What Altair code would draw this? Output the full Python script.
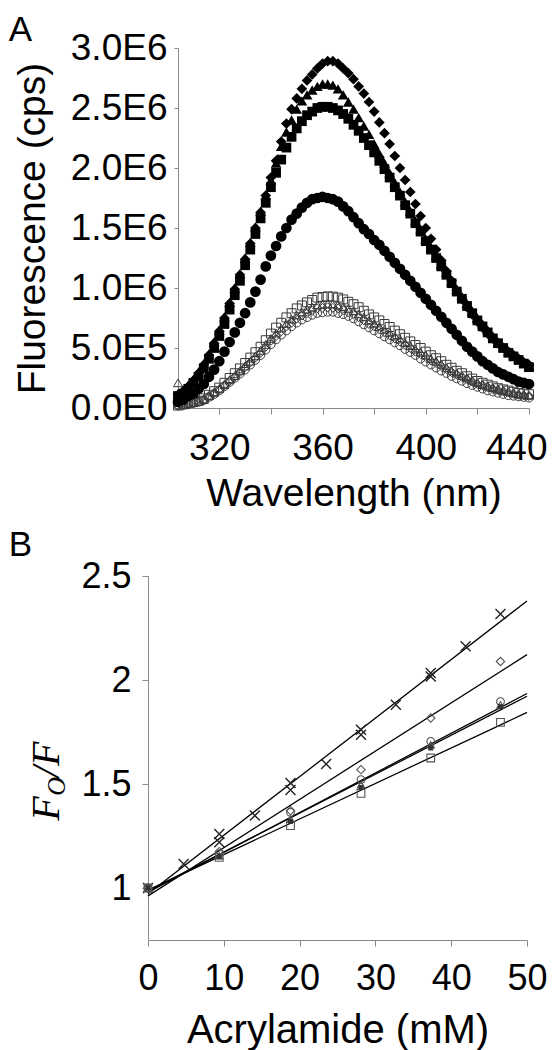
import altair as alt
import pandas as pd

# ---------------- Panel A : emission spectra ----------------
wavelength = [304, 306, 308, 310, 312, 314, 316, 318, 320, 322,
              324, 326, 328, 330, 332, 334, 336, 338, 340, 342,
              344, 346, 348, 350, 352, 354, 356, 358, 360, 362,
              364, 366, 368, 370, 372, 374, 376, 378, 380, 382,
              384, 386, 388, 390, 392, 394, 396, 398, 400, 402,
              404, 406, 408, 410, 412, 414, 416, 418, 420, 422,
              424, 426, 428, 430, 432, 434, 436, 438, 440]

# values in units of 1E6 cps
f_diamond = [0.11, 0.14, 0.18, 0.23, 0.29, 0.36, 0.44, 0.54, 0.64, 0.75,
             0.87, 0.99, 1.11, 1.24, 1.37, 1.50, 1.63, 1.77, 1.92, 2.06,
             2.22, 2.37, 2.49, 2.58, 2.66, 2.73, 2.78, 2.83, 2.87, 2.89,
             2.89, 2.87, 2.83, 2.79, 2.74, 2.68, 2.62, 2.55, 2.47, 2.38,
             2.29, 2.20, 2.10, 2.00, 1.90, 1.80, 1.70, 1.60, 1.50, 1.41,
             1.32, 1.23, 1.14, 1.06, 0.98, 0.91, 0.84, 0.78, 0.72, 0.67,
             0.62, 0.58, 0.54, 0.50, 0.47, 0.44, 0.41, 0.38, 0.36]
f_triangle = [0.12, 0.15, 0.19, 0.24, 0.30, 0.37, 0.45, 0.55, 0.65, 0.76,
              0.88, 1.00, 1.12, 1.25, 1.38, 1.51, 1.64, 1.77, 1.90, 2.04,
              2.18, 2.30, 2.40, 2.49, 2.56, 2.61, 2.65, 2.68, 2.70, 2.70,
              2.69, 2.66, 2.61, 2.55, 2.49, 2.42, 2.35, 2.28, 2.20, 2.12,
              2.04, 1.96, 1.88, 1.80, 1.72, 1.64, 1.56, 1.49, 1.41, 1.34,
              1.27, 1.20, 1.13, 1.06, 0.99, 0.93, 0.87, 0.81, 0.75, 0.70,
              0.65, 0.60, 0.55, 0.51, 0.47, 0.44, 0.41, 0.38, 0.35]
f_square = [0.10, 0.12, 0.16, 0.21, 0.26, 0.33, 0.41, 0.50, 0.60, 0.70,
            0.82, 0.94, 1.06, 1.19, 1.32, 1.45, 1.58, 1.71, 1.84, 1.96,
            2.07, 2.17, 2.26, 2.33, 2.39, 2.44, 2.47, 2.50, 2.51, 2.51,
            2.50, 2.48, 2.45, 2.41, 2.36, 2.31, 2.25, 2.19, 2.13, 2.06,
            1.99, 1.92, 1.84, 1.77, 1.69, 1.62, 1.54, 1.47, 1.39, 1.32,
            1.25, 1.18, 1.11, 1.04, 0.97, 0.91, 0.85, 0.79, 0.73, 0.68,
            0.63, 0.58, 0.54, 0.50, 0.46, 0.43, 0.40, 0.37, 0.34]
f_circle = [0.05, 0.07, 0.10, 0.12, 0.16, 0.20, 0.26, 0.32, 0.39, 0.47,
            0.55, 0.63, 0.71, 0.79, 0.88, 0.97, 1.07, 1.18, 1.27, 1.35,
            1.43, 1.50, 1.57, 1.62, 1.67, 1.71, 1.74, 1.75, 1.76, 1.75,
            1.74, 1.72, 1.68, 1.64, 1.59, 1.54, 1.49, 1.45, 1.40, 1.36,
            1.31, 1.26, 1.21, 1.16, 1.11, 1.06, 1.01, 0.96, 0.91, 0.86,
            0.81, 0.76, 0.71, 0.66, 0.61, 0.56, 0.51, 0.47, 0.43, 0.39,
            0.36, 0.33, 0.30, 0.28, 0.26, 0.24, 0.22, 0.21, 0.20]
o_square = [0.02, 0.03, 0.04, 0.05, 0.06, 0.08, 0.11, 0.14, 0.17, 0.21,
            0.25, 0.29, 0.33, 0.375, 0.42, 0.465, 0.51, 0.565, 0.62, 0.67,
            0.71, 0.755, 0.79, 0.83, 0.855, 0.88, 0.90, 0.92, 0.925, 0.93,
            0.928, 0.92, 0.905, 0.885, 0.865, 0.84, 0.81, 0.78, 0.755, 0.73,
            0.70, 0.675, 0.645, 0.615, 0.585, 0.555, 0.525, 0.50, 0.47, 0.44,
            0.415, 0.39, 0.36, 0.335, 0.31, 0.29, 0.265, 0.245, 0.225, 0.21,
            0.195, 0.18, 0.165, 0.155, 0.145, 0.135, 0.125, 0.12, 0.115]
o_triangle = [0.21, 0.03, 0.04, 0.045, 0.055, 0.07, 0.10, 0.13, 0.16, 0.195,
              0.235, 0.27, 0.31, 0.35, 0.39, 0.435, 0.48, 0.53, 0.58, 0.625,
              0.665, 0.705, 0.74, 0.775, 0.80, 0.825, 0.84, 0.86, 0.865, 0.87,
              0.868, 0.86, 0.845, 0.83, 0.81, 0.785, 0.76, 0.73, 0.705, 0.68,
              0.655, 0.63, 0.60, 0.575, 0.545, 0.52, 0.49, 0.465, 0.44, 0.41,
              0.39, 0.365, 0.335, 0.31, 0.29, 0.27, 0.25, 0.23, 0.21, 0.195,
              0.18, 0.17, 0.155, 0.145, 0.135, 0.125, 0.115, 0.11, 0.105]
o_diamond = [0.02, 0.02, 0.035, 0.045, 0.055, 0.07, 0.10, 0.125, 0.155, 0.19,
             0.225, 0.26, 0.30, 0.34, 0.38, 0.42, 0.46, 0.51, 0.56, 0.60,
             0.64, 0.68, 0.71, 0.745, 0.77, 0.79, 0.81, 0.83, 0.835, 0.84,
             0.835, 0.83, 0.815, 0.795, 0.78, 0.755, 0.73, 0.70, 0.68, 0.655,
             0.63, 0.605, 0.58, 0.555, 0.525, 0.50, 0.47, 0.45, 0.425, 0.395,
             0.375, 0.35, 0.325, 0.30, 0.28, 0.26, 0.24, 0.22, 0.20, 0.19,
             0.175, 0.16, 0.15, 0.14, 0.13, 0.12, 0.11, 0.105, 0.10]
o_circle = [0.02, 0.025, 0.03, 0.04, 0.05, 0.065, 0.09, 0.115, 0.145, 0.18,
            0.215, 0.25, 0.285, 0.32, 0.36, 0.40, 0.44, 0.485, 0.53, 0.57,
            0.61, 0.645, 0.68, 0.71, 0.735, 0.755, 0.775, 0.79, 0.795, 0.80,
            0.80, 0.79, 0.78, 0.765, 0.745, 0.72, 0.695, 0.67, 0.645, 0.62,
            0.595, 0.57, 0.545, 0.52, 0.49, 0.465, 0.44, 0.41, 0.385, 0.36,
            0.335, 0.31, 0.29, 0.265, 0.245, 0.225, 0.205, 0.19, 0.175, 0.16,
            0.145, 0.135, 0.125, 0.115, 0.105, 0.10, 0.095, 0.09, 0.085]

a_y_ticks = [0, 0.5, 1.0, 1.5, 2.0, 2.5, 3.0]
a_x_ticks = [320, 340, 360, 380, 400, 420, 440]

# ---------------- Panel B : Stern-Volmer plot ----------------
x_cross = [0, 4.7, 9.4, 9.4, 14.1, 18.8, 18.8, 23.5, 28.1, 28.1, 32.7, 37.3, 37.3, 41.9, 46.5]
y_cross = [1.0, 1.115, 1.26, 1.22, 1.348, 1.505, 1.471, 1.596, 1.761, 1.737, 1.881, 2.034, 2.017, 2.162, 2.317]
conc = [0, 9.4, 18.8, 28.1, 37.3, 46.5]
y_diamond = [1.0, 1.175, 1.372, 1.569, 1.817, 2.089]
y_circle = [1.0, 1.165, 1.364, 1.521, 1.705, 1.896]
y_triangle = [1.0, 1.155, 1.33, 1.497, 1.689, 1.881]
y_dot = [1.0, 1.15, 1.32, 1.484, 1.673, 1.872]
y_square = [1.0, 1.147, 1.30, 1.455, 1.625, 1.796]

fit_x = [0, 50]
fit_cross = [0.972, 2.38]
fit_diamond = [0.962, 2.122]
fit_circle = [0.98, 1.935]
fit_triangle = [0.985, 1.922]
fit_square = [0.99, 1.844]

b_y_ticks = [1.0, 1.5, 2.0, 2.5]
b_x_ticks = [0, 10, 20, 30, 40, 50]

SANS = "Liberation Sans"
SERIF = "Liberation Serif"
AXIS_GREY = "#8a8a8a"

# pixel layout (page coordinates) used for the free-standing texts
A_LEFT, A_TOP = 177.3, 47.3
B_LEFT, B_TOP = 147.3, 575.3
A_W, A_H = 351, 360
B_W, B_H = 379, 364

# ---------------- build panel A ----------------
ax = alt.X("wl:Q",
           scale=alt.Scale(domain=[304, 440], nice=False, zero=False),
           axis=alt.Axis(values=a_x_ticks, labelExpr="datum.value % 40 == 0 ? datum.label : ''",
                         title="Wavelength (nm)", grid=False, labelOverlap=False,
                         labelFlush=True, labelFlushOffset=18,
                         domainColor=AXIS_GREY, tickColor=AXIS_GREY, tickSize=6,
                         labelFont=SANS, labelFontSize=37, labelPadding=16, labelColor="black",
                         titleFont=SANS, titleFontSize=39, titleFontWeight="normal",
                         titlePadding=8, titleColor="black"))
ay = alt.Y("val:Q",
           scale=alt.Scale(domain=[0, 3], nice=False, zero=True),
           axis=alt.Axis(values=a_y_ticks,
                         labelExpr="datum.value == 0 ? '0.0E0' : (datum.value < 1 ? format(datum.value * 10, '.1f') + 'E5' : format(datum.value, '.1f') + 'E6')",
                         title="Fluorescence (cps)", grid=False, labelOverlap=False, labelFlush=False,
                         domainColor=AXIS_GREY, tickColor=AXIS_GREY, tickSize=4,
                         labelFont=SANS, labelFontSize=37, labelPadding=7, labelColor="black",
                         titleFont=SANS, titleFontSize=39, titleFontWeight="normal",
                         titlePadding=18, titleColor="black"))

a_series = [
    (o_circle, "circle", False, 70),
    (o_diamond, "diamond", False, 80),
    (o_triangle, "triangle-up", False, 80),
    (o_square, "square", False, 80),
    (f_diamond, "diamond", True, 115),
    (f_triangle, "triangle-up", True, 115),
    (f_square, "square", True, 95),
    (f_circle, "circle", True, 115),
]

a_layers = []
for vals, shp, filled, sz in a_series:
    df = pd.DataFrame({"wl": wavelength, "val": vals})
    if filled:
        m = alt.Chart(df).mark_point(shape=shp, filled=True, size=sz, color="black", opacity=1, strokeWidth=0)
    else:
        m = alt.Chart(df).mark_point(shape=shp, filled=False, size=sz, color="#3a3a3a", opacity=1, strokeWidth=1)
    a_layers.append(m.encode(x=ax, y=ay))

a_label = alt.Chart(pd.DataFrame({"t": ["A"]})).mark_text(
    align="left", baseline="alphabetic", font=SANS, fontSize=35, color="black"
).encode(x=alt.value(8 - A_LEFT), y=alt.value(40 - A_TOP), text="t:N")

panel_a = alt.layer(*a_layers, a_label).properties(width=A_W, height=A_H)

# invisible spacer that pushes panel A 30 px to the right of panel B
spacer = alt.Chart(pd.DataFrame({"z": [0]})).mark_point(opacity=0, size=1).encode(
    x=alt.X("z:Q", axis=None, scale=alt.Scale(domain=[0, 1])),
    y=alt.Y("z:Q", axis=None, scale=alt.Scale(domain=[0, 1])),
).properties(width=A_LEFT - B_LEFT, height=A_H)

row_a = alt.hconcat(spacer, panel_a, spacing=0, bounds="flush")

# ---------------- build panel B ----------------
bx = alt.X("c:Q", scale=alt.Scale(domain=[0, 50], nice=False, zero=False),
           axis=alt.Axis(values=b_x_ticks, title="Acrylamide (mM)", grid=False, labelOverlap=False,
                         labelFlush=False,
                         domainColor=AXIS_GREY, tickColor=AXIS_GREY, tickSize=6,
                         labelFont=SANS, labelFontSize=36, labelPadding=15, labelColor="black",
                         titleFont=SANS, titleFontSize=40, titleFontWeight="normal",
                         titlePadding=14, titleColor="black"))
by = alt.Y("r:Q", scale=alt.Scale(domain=[0.75, 2.5], nice=False, zero=False),
           axis=alt.Axis(values=b_y_ticks, format="~g", title=None, grid=False, labelOverlap=False,
                         labelFlush=False,
                         domainColor=AXIS_GREY, tickColor=AXIS_GREY, tickSize=6,
                         labelFont=SANS, labelFontSize=36, labelPadding=11, labelColor="black"))

b_layers = []
for fy in [fit_cross, fit_diamond, fit_circle, fit_triangle, fit_square]:
    df = pd.DataFrame({"c": fit_x, "r": fy})
    b_layers.append(alt.Chart(df).mark_line(color="black", strokeWidth=1.3).encode(x=bx, y=by))

XSHAPE = "M-1,-1L1,1M-1,1L1,-1"
b_pts = [
    (x_cross, y_cross, XSHAPE, False, 100, "#222222", 1.4),
    (conc, y_diamond, "diamond", False, 70, "#555555", 1.1),
    (conc, y_circle, "circle", False, 60, "#555555", 1.1),
    (conc, y_triangle, "triangle-up", False, 55, "#555555", 1.1),
    (conc, y_square, "square", False, 60, "#555555", 1.1),
    (conc, y_dot, "square", True, 25, "#333333", 0),
]
for xs, ys, shp, filled, sz, col, sw in b_pts:
    df = pd.DataFrame({"c": xs, "r": ys})
    b_layers.append(alt.Chart(df).mark_point(shape=shp, filled=filled, size=sz, color=col,
                                             strokeWidth=sw, opacity=1).encode(x=bx, y=by))

b_label = alt.Chart(pd.DataFrame({"t": ["B"]})).mark_text(
    align="left", baseline="alphabetic", font=SANS, fontSize=35, color="black"
).encode(x=alt.value(8 - B_LEFT), y=alt.value(555 - B_TOP), text="t:N")

t_f1 = alt.Chart(pd.DataFrame({"t": ["F"]})).mark_text(
    align="left", baseline="alphabetic", angle=270, font=SERIF, fontStyle="italic", fontSize=40, color="black"
).encode(x=alt.value(58.5 - B_LEFT), y=alt.value(820 - B_TOP), text="t:N")
t_sub = alt.Chart(pd.DataFrame({"t": ["O"]})).mark_text(
    align="left", baseline="alphabetic", angle=270, font=SERIF, fontStyle="italic", fontSize=26, color="black"
).encode(x=alt.value(64.5 - B_LEFT), y=alt.value(795 - B_TOP), text="t:N")
t_f2 = alt.Chart(pd.DataFrame({"t": ["/F"]})).mark_text(
    align="left", baseline="alphabetic", angle=270, font=SERIF, fontStyle="italic", fontSize=40, color="black"
).encode(x=alt.value(58.5 - B_LEFT), y=alt.value(776.5 - B_TOP), text="t:N")

panel_b = alt.layer(*b_layers, b_label, t_f1, t_sub, t_f2).properties(width=B_W, height=B_H)

chart = alt.vconcat(row_a, panel_b, spacing=14).properties(
    padding={"left": 0, "top": 4, "right": 0, "bottom": 0},
    background="white",
).configure_view(stroke=None)

chart.save("out.html", embed_options={"renderer": "svg", "actions": False})
